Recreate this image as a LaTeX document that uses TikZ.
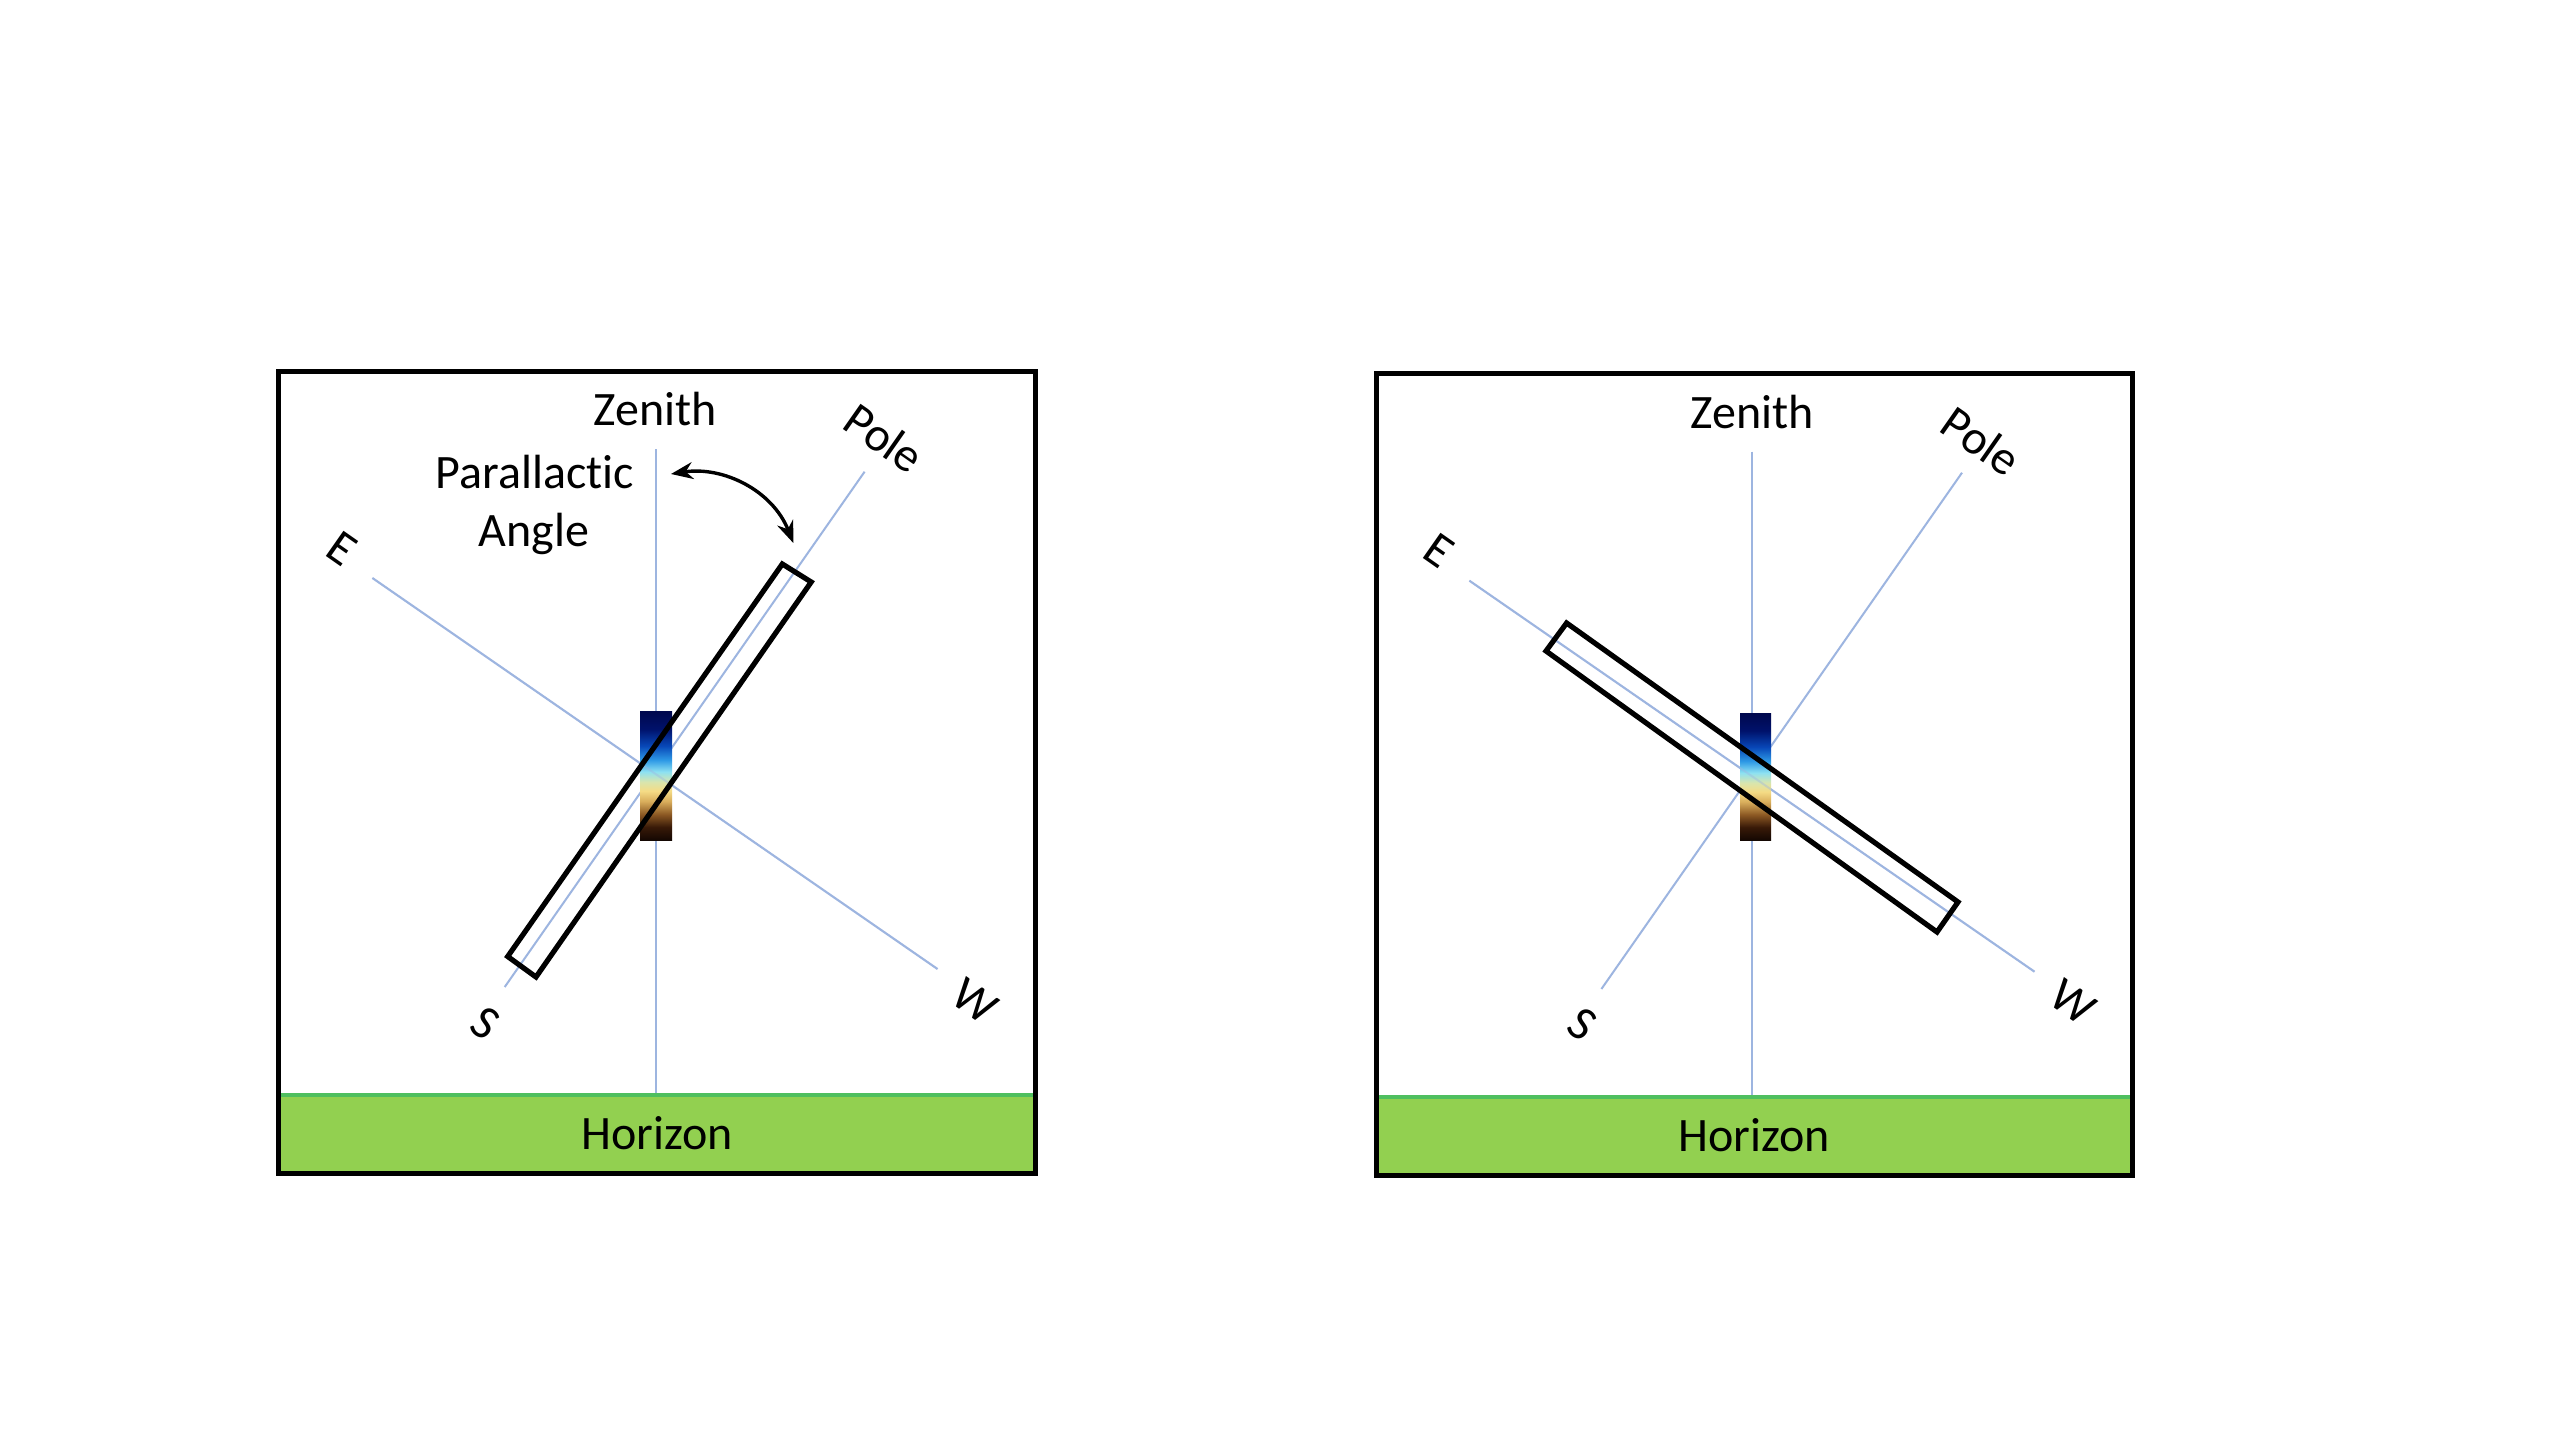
\documentclass[tikz,border=0pt]{standalone}
\usepackage{fontspec}
\setmainfont[Ligatures=NoCommon]{Carlito}
\usetikzlibrary{arrows.meta}
\definecolor{skyline}{HTML}{9DB5E0}
\definecolor{grass}{HTML}{92D050}
\definecolor{grassedge}{HTML}{4FBF5F}
\pgfdeclareverticalshading{spectrumshade}{100bp}{
 rgb(0bp)=(0.08,0.03,0.01);
 rgb(25bp)=(0.08,0.03,0.01);
 rgb(30bp)=(0.22,0.10,0.03);
 rgb(35bp)=(0.55,0.35,0.14);
 rgb(40bp)=(0.85,0.68,0.36);
 rgb(44bp)=(0.96,0.86,0.52);
 rgb(47.5bp)=(0.85,0.90,0.68);
 rgb(51.5bp)=(0.55,0.88,0.95);
 rgb(56bp)=(0.18,0.60,0.90);
 rgb(61.5bp)=(0.03,0.28,0.72);
 rgb(68bp)=(0.00,0.07,0.42);
 rgb(75bp)=(0.00,0.03,0.30);
 rgb(100bp)=(0.00,0.03,0.30)}
\tikzset{
 x=0.5pt,y=-0.5pt,
 framebox/.style={draw=black,line width=2.5pt,line join=miter},
 grassband/.style={fill=grass,draw=none},
 grasstop/.style={draw=grassedge,line width=1.6pt},
 skyaxis/.style={draw=skyline,line width=1pt},
 faintaxis/.style={skyaxis,opacity=.4},
 slitbar/.style={draw=black,line width=2.6pt,line join=miter},
 spectrumbar/.style={shading=spectrumshade,draw=none},
 lab/.style={font=\fontsize{24}{28}\selectfont,inner sep=0pt,text=black},
 baselab/.style={lab,anchor=base},
 tiltlab/.style={lab,rotate=-35},
 swing/.style={draw=black,line width=1.7pt,{Stealth[length=11pt,width=8.5pt]}-{Stealth[length=11pt,width=8.5pt]}},
}
\begin{document}
\begin{tikzpicture}
\useasboundingbox (0,0) rectangle (2560,1440);
\fill[white] (0,0) rectangle (2560,1440);

% ---------- left panel
\fill[grassband] (278,1095) rectangle (1035,1172);
\coordinate (lzt) at (656,449);
\coordinate (lzb) at (656,1095);
\coordinate (lp) at (864.6,471.7);
\coordinate (ls) at (504.7,987);
\coordinate (le) at (372.4,578);
\coordinate (lw) at (937.5,969);
\draw[skyaxis] (lzt) -- (lzb);
\draw[skyaxis] (lp) -- (ls);
\draw[skyaxis] (le) -- (lw);
\path[spectrumbar] (640,711) rectangle (672,840);
\draw[faintaxis] (le) -- (lw);
\draw[grasstop] (278,1095) -- (1035,1095);
\coordinate (lr1) at (782.3,564);
\coordinate (lr2) at (811.2,582);
\coordinate (lr3) at (536,977);
\coordinate (lr4) at (507.7,956.5);
\draw[slitbar] (lr1) -- (lr2) -- (lr3) -- (lr4) -- cycle;
\draw[framebox] (278,371.5) rectangle (1035,1173);
\coordinate (la1) at (671,474);
\coordinate (la2) at (793.3,543);
\draw[swing] (la1) .. controls (722.6,466) and (772.4,490) .. (la2);
\node[baselab] (lzen) at (655,425.5) {Zenith};
\node[baselab] (lpar) at (534.6,488.5) {Parallactic};
\node[baselab] (lang) at (534,546.5) {Angle};
\node[baselab] (lhor) at (657,1149.5) {Horizon};
\node[tiltlab] (lpole) at (884.5,438) {Pole};
\node[tiltlab] (least) at (342,549) {E};
\node[tiltlab] (lsouth) at (485.5,1023) {S};
\node[tiltlab] (lwest) at (975,1001) {W};

% ---------- right panel
\fill[grassband] (1376,1097) rectangle (2132,1175);
\coordinate (rzt) at (1751.5,451.7);
\coordinate (rzb) at (1751.5,1097);
\coordinate (rp) at (1962,472.7);
\coordinate (rs) at (1601.4,989);
\coordinate (re) at (1469.4,580.7);
\coordinate (rw) at (2034.5,971.7);
\draw[skyaxis] (rzt) -- (rzb);
\draw[skyaxis] (rp) -- (rs);
\draw[skyaxis] (re) -- (rw);
\path[spectrumbar] (1740,713) rectangle (1771,840);
\draw[faintaxis] (re) -- (rw);
\draw[grasstop] (1376,1097) -- (2132,1097);
\coordinate (rr1) at (1566.6,623);
\coordinate (rr2) at (1958,902);
\coordinate (rr3) at (1937,932);
\coordinate (rr4) at (1546,651);
\draw[slitbar] (rr1) -- (rr2) -- (rr3) -- (rr4) -- cycle;
\draw[framebox] (1376,373.5) rectangle (2132,1175);
\node[baselab] (rzen) at (1752,428) {Zenith};
\node[baselab] (rhor) at (1754,1151) {Horizon};
\node[tiltlab] (rpole) at (1981.5,441) {Pole};
\node[tiltlab] (reast) at (1439,551) {E};
\node[tiltlab] (rsouth) at (1582,1024) {S};
\node[tiltlab] (rwest) at (2073,1002) {W};
\end{tikzpicture}
\end{document}
